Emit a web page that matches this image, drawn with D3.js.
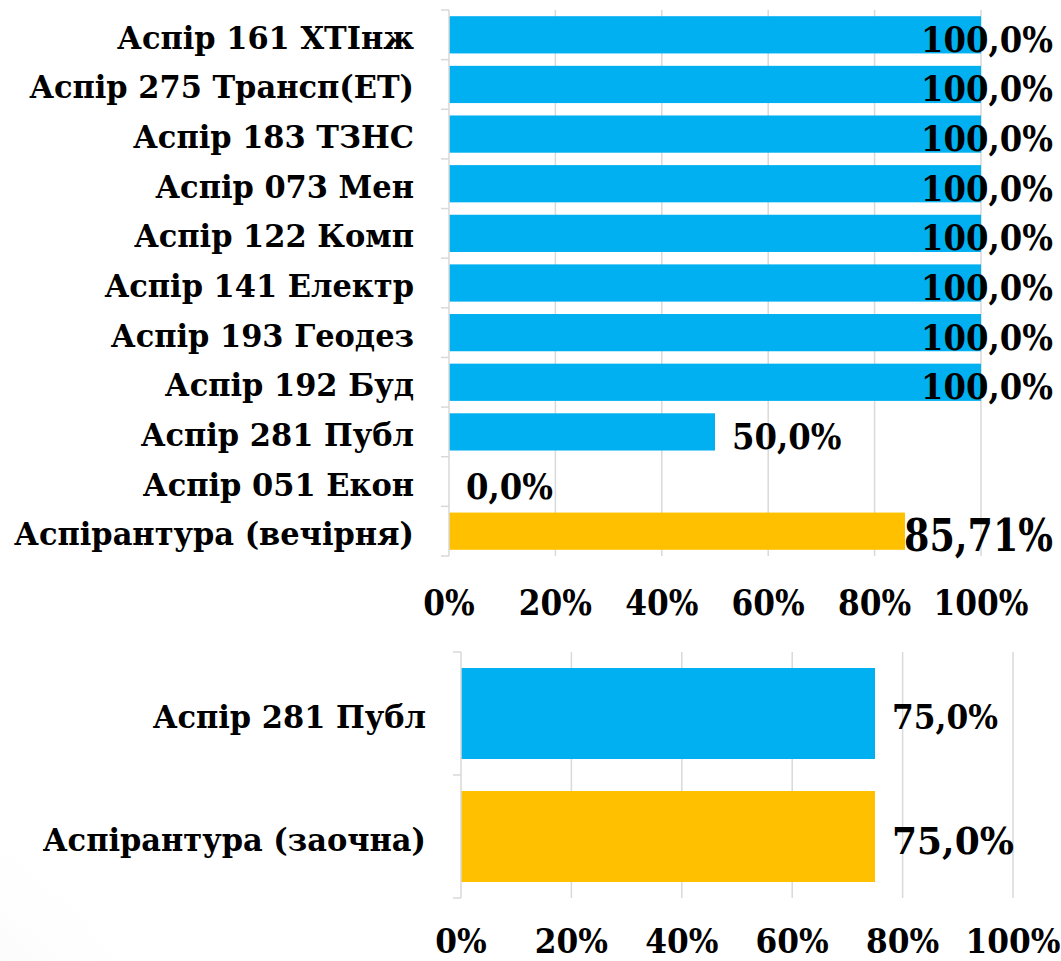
<!DOCTYPE html>
<html><head><meta charset="utf-8">
<script src="https://cdn.jsdelivr.net/npm/d3@7"></script>
<style>body{margin:0;background:#fff}svg{display:block}</style>
</head><body>
<svg id="c" width="1061" height="961"></svg>
<script>
// ---- data ----
const topCategories = ["Аспір 161 ХТІнж","Аспір 275 Трансп(ЕТ)","Аспір 183 ТЗНС","Аспір 073 Мен","Аспір 122 Комп","Аспір 141 Електр","Аспір 193 Геодез","Аспір 192 Буд","Аспір 281 Публ","Аспір 051 Екон","Аспірантура (вечірня)"];
const topValues = [1,1,1,1,1,1,1,1,0.5,0,0.8571];
const topLabels = ["100,0%","100,0%","100,0%","100,0%","100,0%","100,0%","100,0%","100,0%","50,0%","0,0%","85,71%"];
const topIsTotal = [false,false,false,false,false,false,false,false,false,false,true];

const botCategories = ["Аспір 281 Публ","Аспірантура (заочна)"];
const botValues = [0.75,0.75];
const botLabels = ["75,0%","75,0%"];
const botIsTotal = [false,true];

const tickValues = [0,0.2,0.4,0.6,0.8,1];
const tickLabels = ["0%","20%","40%","60%","80%","100%"];

const FONT = "'DejaVu Serif', serif";
const BLUE = "#00B0F0", GOLD = "#FFC000", GRID = "#d9d9d9";

const svg = d3.select("#c");

// background shading (bottom-left)
const defs = svg.append("defs");
const rg = defs.append("radialGradient").attr("id","bg").attr("cx",0).attr("cy",1).attr("r",1);
rg.append("stop").attr("offset","0").attr("stop-color","#d6d6d6");
rg.append("stop").attr("offset","0.55").attr("stop-color","#ececec");
rg.append("stop").attr("offset","1").attr("stop-color","#ffffff").attr("stop-opacity",0);
svg.append("rect").attr("width",1061).attr("height",961).attr("fill","#fff");
svg.append("ellipse").attr("cx",-60).attr("cy",1000).attr("rx",360).attr("ry",330).attr("fill","url(#bg)");

function measure(text, size){
  const t = svg.append("text").attr("font-family",FONT).attr("font-weight","bold").attr("font-size",size).text(text);
  const w = t.node().getComputedTextLength(); t.remove();
  return w;
}
function style(size, sample, width){ return {size, sx: width/measure(sample,size)}; }

function ptext(parent, str, x, y, st, anchor){
  const g = parent.append("g").attr("transform",`translate(${x},${y}) scale(${st.sx},1)`);
  const t = g.append("text").attr("font-family",FONT).attr("font-weight","bold")
    .attr("font-size",st.size).attr("text-anchor",anchor||"start").attr("fill","#000").text(str);
  return {g, t, w: t.node().getComputedTextLength()*st.sx};
}

const catStyle = style(32, "Аспірантура (вечірня)", 400);

function drawChart(cfg){
  const {cats, vals, labs, tot, x0, x1, y0, y1, pad, labelRight, tickBase, rightLimit,
         valSt, totSt, tickSt, valOff, totOff, catOff} = cfg;
  const x = d3.scaleLinear().domain([0,1]).range([x0,x1]);
  const y = d3.scaleBand().domain(cats).range([y0,y1]).paddingInner(pad).paddingOuter(pad/2);
  const g = svg.append("g");
  g.selectAll("line.grid").data(tickValues.slice(1)).join("line")
    .attr("x1",d=>x(d)).attr("x2",d=>x(d)).attr("y1",y0).attr("y2",y1)
    .attr("stroke",GRID).attr("stroke-width",1.5);
  g.selectAll("rect.bar").data(cats).join("rect")
    .attr("x",x(0)).attr("y",d=>y(d)).attr("height",y.bandwidth())
    .attr("width",(d,i)=>x(vals[i])-x(0))
    .attr("fill",(d,i)=>tot[i]?GOLD:BLUE);
  g.append("line").attr("x1",x0).attr("x2",x0).attr("y1",y0).attr("y2",y1).attr("stroke",GRID).attr("stroke-width",1.5);
  const bounds = d3.range(cats.length+1).map(i=>y0+i*(y1-y0)/cats.length);
  g.selectAll("line.tk").data(bounds).join("line")
    .attr("x1",x0-8).attr("x2",x0).attr("y1",d=>d).attr("y2",d=>d).attr("stroke",GRID).attr("stroke-width",1.5);
  cats.forEach((c,i)=>{
    ptext(g, c, labelRight, y(c)+y.bandwidth()/2+catOff, catStyle, "end");
  });
  cats.forEach((c,i)=>{
    const st = tot[i]?totSt:valSt;
    const cy = y(c)+y.bandwidth()/2 + (tot[i]?totOff:valOff);
    const p = ptext(g, labs[i], 0, cy, st, "start");
    let xs = x(vals[i]) + 17;
    if (xs + p.w > rightLimit) xs = rightLimit - p.w;
    p.g.attr("transform",`translate(${xs},${cy}) scale(${st.sx},1)`);
  });
  tickValues.forEach((v,i)=>ptext(g, tickLabels[i], x(v), tickBase, tickSt, "middle"));
}

drawChart({cats:topCategories, vals:topValues, labs:topLabels, tot:topIsTotal,
  x0:449, x1:981, y0:10, y1:556, pad:0.25, labelRight:414, tickBase:615, rightLimit:1053,
  valSt:style(36,"100,0%",132), totSt:style(44,"85,71%",149), tickSt:style(36,"100%",95),
  valOff:17, totOff:20, catOff:14});
drawChart({cats:botCategories, vals:botValues, labs:botLabels, tot:botIsTotal,
  x0:461, x1:1013, y0:652, y1:898, pad:0.26, labelRight:426, tickBase:953, rightLimit:1058,
  valSt:style(34,"75,0%",106), totSt:style(38,"75,0%",122), tickSt:style(33,"100%",95),
  valOff:15, totOff:17, catOff:14});
</script>
</body></html>
